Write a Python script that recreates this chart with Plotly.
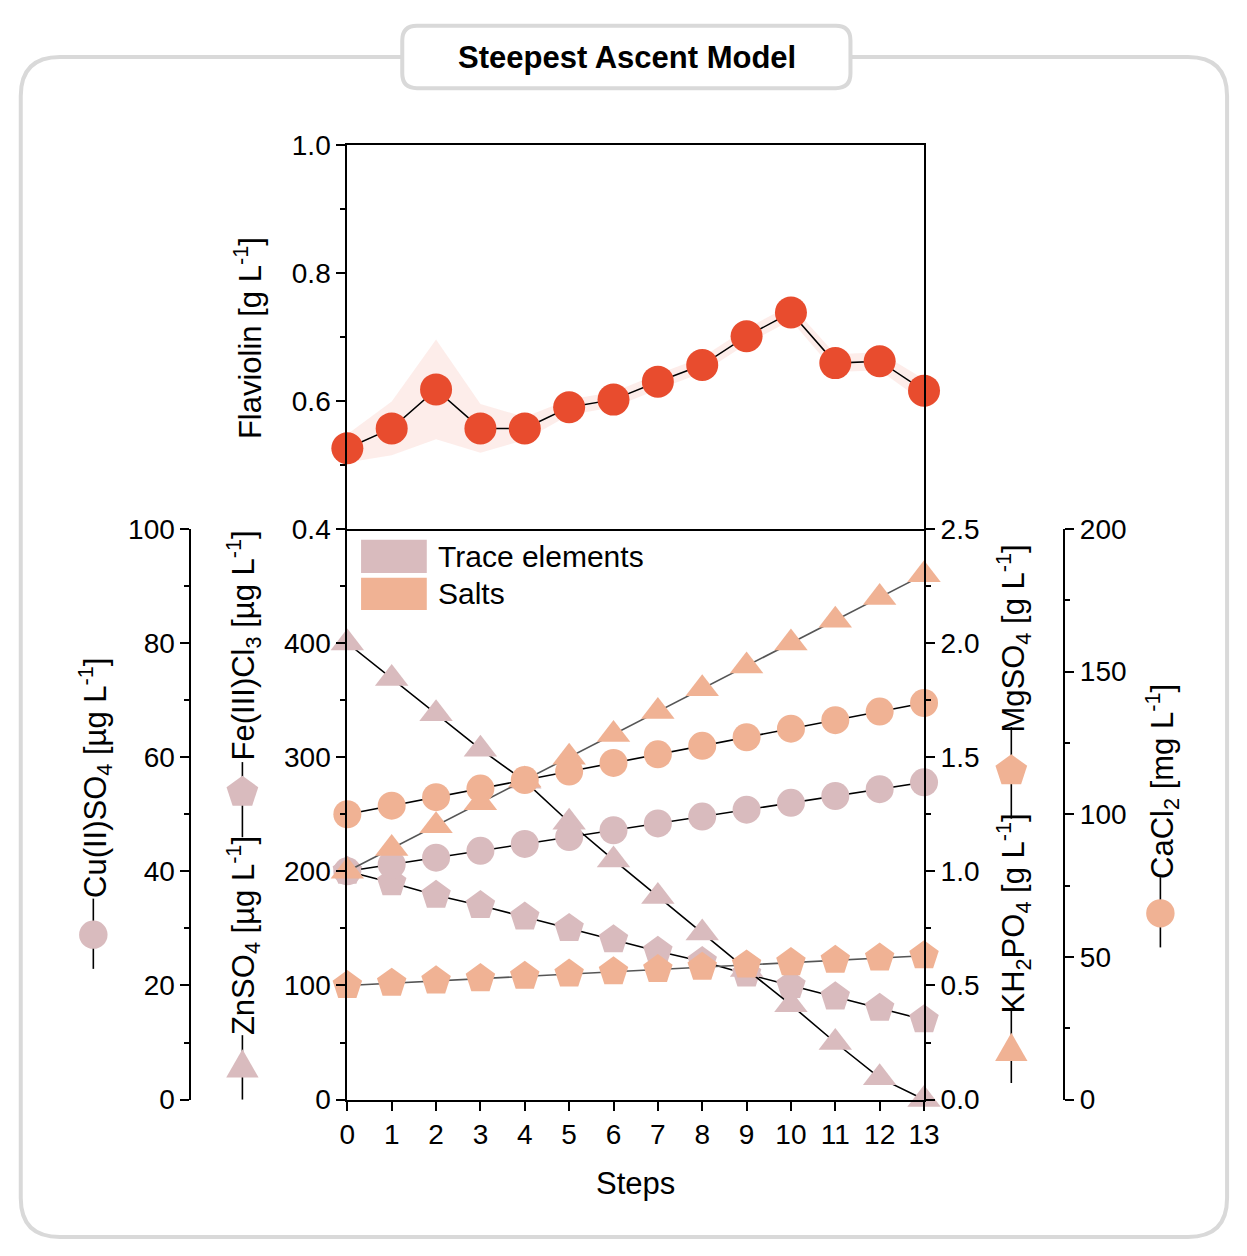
import math
import plotly.graph_objects as go

W, H = 1247, 1256

# ---------------- data ----------------
steps = list(range(14))
step_labels = [str(s) for s in steps]

flaviolin = [0.526, 0.557, 0.618, 0.557, 0.557, 0.590, 0.602, 0.630, 0.656, 0.701, 0.738, 0.659, 0.662, 0.616]
flaviolin_sd = [0.022, 0.042, 0.078, 0.038, 0.018, 0.012, 0.012, 0.012, 0.012, 0.012, 0.012, 0.014, 0.014, 0.018]

cu_so4 = [40.0, 41.2, 42.4, 43.6, 44.8, 46.0, 47.2, 48.4, 49.6, 50.8, 52.0, 53.2, 54.4, 55.6]      # µg/L
fe_cl3 = [200, 190, 179, 170, 160, 150, 140, 130, 121, 110, 100, 90, 80, 70]                          # µg/L
zn_so4 = [400, 369, 338, 307, 279, 243, 210, 178, 146, 114, 83, 50, 19, 0]                            # µg/L
kh2po4 = [1.0, 1.1, 1.2, 1.3, 1.4, 1.5, 1.6, 1.7, 1.8, 1.9, 2.0, 2.1, 2.2, 2.3]                      # g/L
mg_so4 = [0.50, 0.51, 0.52, 0.53, 0.54, 0.55, 0.56, 0.57, 0.58, 0.59, 0.60, 0.61, 0.62, 0.63]        # g/L
ca_cl2 = [100, 103, 106, 109, 112, 115, 118, 121, 124, 127, 130, 133, 136, 139]                      # mg/L

trace_color = "#D9BBBE"
salt_color = "#F0B294"
flav_color = "#E84C2E"

FONT = "Liberation Sans, Arial, sans-serif"
TICK_SIZE = 28
TITLE_SIZE = 31


def px(x):
    return x / W


def py(y):
    return 1 - y / H


fig = go.Figure()

# ---------------- top panel ----------------
upper = [f + s for f, s in zip(flaviolin, flaviolin_sd)]
lower = [f - s for f, s in zip(flaviolin, flaviolin_sd)]
fig.add_trace(go.Scatter(
    x=steps + steps[::-1], y=upper + lower[::-1], xaxis="x2", yaxis="y2",
    fill="toself", fillcolor="rgba(232,76,46,0.10)", line=dict(width=0),
    mode="lines", showlegend=False, hoverinfo="skip"))
fig.add_trace(go.Scatter(
    x=steps, y=flaviolin, xaxis="x2", yaxis="y2", mode="lines+markers",
    line=dict(color="black", width=1.5),
    marker=dict(symbol="circle", size=32, color=flav_color),
    cliponaxis=False, showlegend=False, name="Flaviolin"))

# ---------------- bottom panel ----------------
series = [
    ("Cu(II)SO4", cu_so4, "y3", "circle", 28, trace_color, "black"),
    ("Fe(III)Cl3", fe_cl3, "y", "pentagon", 31, trace_color, "black"),
    ("ZnSO4", zn_so4, "y", "triangle-up", 29, trace_color, "black"),
    ("CaCl2", ca_cl2, "y5", "circle", 28, salt_color, "black"),
    ("MgSO4", mg_so4, "y4", "pentagon", 31, salt_color, "#555555"),
    ("KH2PO4", kh2po4, "y4", "triangle-up", 29, salt_color, "#555555"),
]
for name, vals, yax, sym, size, col, lcol in series:
    fig.add_trace(go.Scatter(
        x=steps, y=vals, xaxis="x", yaxis=yax, mode="lines+markers", name=name,
        line=dict(color=lcol, width=1.6),
        marker=dict(symbol=sym, size=size, color=col),
        cliponaxis=False, showlegend=False))

xdom = [px(346), px(934)]
top_dom = [py(527), py(133)]
bot_dom = [py(1112), py(527)]

axis_common = dict(
    showline=True, linecolor="black", linewidth=2, ticks="outside", ticklen=9,
    tickwidth=2, tickcolor="black", showgrid=False, zeroline=False,
    tickfont=dict(family=FONT, size=TICK_SIZE, color="black"))
minor_common = dict(ticks="outside", ticklen=5, tickwidth=2, tickcolor="black", showgrid=False)

fig.update_layout(
    width=W, height=H, margin=dict(l=0, r=0, t=0, b=0),
    paper_bgcolor="white", plot_bgcolor="rgba(0,0,0,0)",
    font=dict(family=FONT, color="black"),
    showlegend=False,
    xaxis=dict(domain=xdom, range=[0, 13], anchor="y", tickvals=steps, ticktext=step_labels,
               **axis_common),
    xaxis2=dict(domain=xdom, range=[0, 13], anchor="y2", showline=True, linecolor="black",
                linewidth=2, mirror=True, showticklabels=False, ticks="", showgrid=False,
                zeroline=False, matches="x"),
    yaxis2=dict(domain=top_dom, range=[0.4, 1.0], anchor="x2", mirror=True,
                tickvals=[0.4, 0.6, 0.8, 1.0], ticktext=["0.4", "0.6", "0.8", "1.0"],
                minor=dict(tickvals=[0.5, 0.7, 0.9], **minor_common), **axis_common),
    yaxis=dict(domain=bot_dom, range=[0, 500], anchor="x",
               tickvals=[0, 100, 200, 300, 400], ticktext=["0", "100", "200", "300", "400"],
               minor=dict(tickvals=[50, 150, 250, 350, 450], **minor_common), **axis_common),
    yaxis3=dict(domain=bot_dom, range=[0, 100], overlaying="y", anchor="free",
                position=px(186), side="left",
                tickvals=[0, 20, 40, 60, 80, 100], ticktext=["0", "20", "40", "60", "80", "100"],
                minor=dict(tickvals=[10, 30, 50, 70, 90], **minor_common), **axis_common),
    yaxis4=dict(domain=bot_dom, range=[0, 2.5], overlaying="y", anchor="x", side="right",
                tickvals=[0, 0.5, 1.0, 1.5, 2.0, 2.5],
                ticktext=["0.0", "0.5", "1.0", "1.5", "2.0", "2.5"],
                minor=dict(tickvals=[0.25, 0.75, 1.25, 1.75, 2.25], **minor_common), **axis_common),
    yaxis5=dict(domain=bot_dom, range=[0, 200], overlaying="y", anchor="free",
                position=px(1077), side="right",
                tickvals=[0, 50, 100, 150, 200], ticktext=["0", "50", "100", "150", "200"],
                minor=dict(tickvals=[25, 75, 125, 175], **minor_common), **axis_common),
)

# ---------------- decoration shapes ----------------
shapes = []


def rrect_path(x0, y0, x1, y1, r):
    pts = [
        ("M", [(x0 + r, y0)]),
        ("L", [(x1 - r, y0)]),
        ("Q", [(x1, y0), (x1, y0 + r)]),
        ("L", [(x1, y1 - r)]),
        ("Q", [(x1, y1), (x1 - r, y1)]),
        ("L", [(x0 + r, y1)]),
        ("Q", [(x0, y1), (x0, y1 - r)]),
        ("L", [(x0, y0 + r)]),
        ("Q", [(x0, y0), (x0 + r, y0)]),
    ]
    s = ""
    for cmd, ps in pts:
        s += cmd + " " + " ".join(f"{px(a):.5f},{py(b):.5f}" for a, b in ps) + " "
    return s + "Z"


shapes.append(dict(type="path", xref="paper", yref="paper", path=rrect_path(13, 43, 1243, 1253, 40),
                   line=dict(color="#D9D9D9", width=4), fillcolor="rgba(0,0,0,0)", layer="below"))
shapes.append(dict(type="path", xref="paper", yref="paper", path=rrect_path(402, 11, 859, 75, 15),
                   line=dict(color="#D9D9D9", width=4), fillcolor="white", layer="below"))

# legend rectangles
shapes.append(dict(type="rect", xref="paper", yref="paper", x0=px(360), x1=px(427), y0=py(572), y1=py(538),
                   fillcolor=trace_color, line=dict(width=0)))
shapes.append(dict(type="rect", xref="paper", yref="paper", x0=px(360), x1=px(427), y0=py(610), y1=py(577),
                   fillcolor=salt_color, line=dict(width=0)))


def vline(x, y0, y1):
    shapes.append(dict(type="line", xref="paper", yref="paper", x0=px(x), x1=px(x), y0=py(y0), y1=py(y1),
                       line=dict(color="black", width=1.6)))


def circle_mark(x, y, d, col):
    shapes.append(dict(type="circle", xref="paper", yref="paper", x0=px(x - d / 2), x1=px(x + d / 2),
                       y0=py(y + d / 2), y1=py(y - d / 2), fillcolor=col, line=dict(width=0)))


def poly_mark(pts, col):
    s = "M " + " L ".join(f"{px(a):.5f},{py(b):.5f}" for a, b in pts) + " Z"
    shapes.append(dict(type="path", xref="paper", yref="paper", path=s, fillcolor=col, line=dict(width=0)))


def tri_mark(x, y, w, h, col):
    poly_mark([(x - w / 2, y + h / 2), (x + w / 2, y + h / 2), (x, y - h / 2)], col)


def pent_mark(x, y, r, col):
    pts = [(x + r * math.cos(math.radians(-90 + 72 * k)), y + r * math.sin(math.radians(-90 + 72 * k)))
           for k in range(5)]
    poly_mark(pts, col)


# Cu(II)SO4 sample
vline(87, 906, 978)
circle_mark(87, 943, 29, trace_color)
# ZnSO4 / Fe(III)Cl3 samples
vline(239, 1046, 1112)
tri_mark(239, 1075, 33, 29, trace_color)
vline(239, 766, 843)
pent_mark(239, 797, 17, trace_color)
# KH2PO4 / MgSO4 samples
vline(1023, 1018, 1095)
tri_mark(1023, 1058, 33, 29, salt_color)
vline(1023, 730, 824)
pent_mark(1023, 775, 17, salt_color)
# CaCl2 sample
vline(1175, 884, 956)
circle_mark(1175, 921, 29, salt_color)

fig.update_layout(shapes=shapes)

# ---------------- text ----------------
ann = []


def text(x, y, s, size=TITLE_SIZE, angle=0, xanchor="center"):
    ann.append(dict(x=px(x), y=py(y), xref="paper", yref="paper", text=s, showarrow=False,
                    textangle=angle, xanchor=xanchor, yanchor="middle",
                    font=dict(family=FONT, size=size, color="black")))


text(631, 44, "<b>Steepest Ascent Model</b>", size=31)
text(245, 331, "Flaviolin [g L<sup>-1</sup>]", angle=-90)
text(640, 1198, "Steps")
text(436, 555, "Trace elements", xanchor="left", size=30)
text(436, 593, "Salts", xanchor="left", size=30)
text(89, 782, "Cu(II)SO<sub>4</sub> [µg L<sup>-1</sup>]", angle=-90)
text(240, 944, "ZnSO<sub>4</sub> [µg L<sup>-1</sup>]", angle=-90)
text(240, 646, "Fe(III)Cl<sub>3</sub> [µg L<sup>-1</sup>]", angle=-90)
text(1025, 921, "KH<sub>2</sub>PO<sub>4</sub> [g L<sup>-1</sup>]", angle=-90)
text(1025, 639, "MgSO<sub>4</sub> [g L<sup>-1</sup>]", angle=-90)
text(1177, 786, "CaCl<sub>2</sub> [mg L<sup>-1</sup>]", angle=-90)

fig.update_layout(annotations=ann)

fig.write_html("out.html")
